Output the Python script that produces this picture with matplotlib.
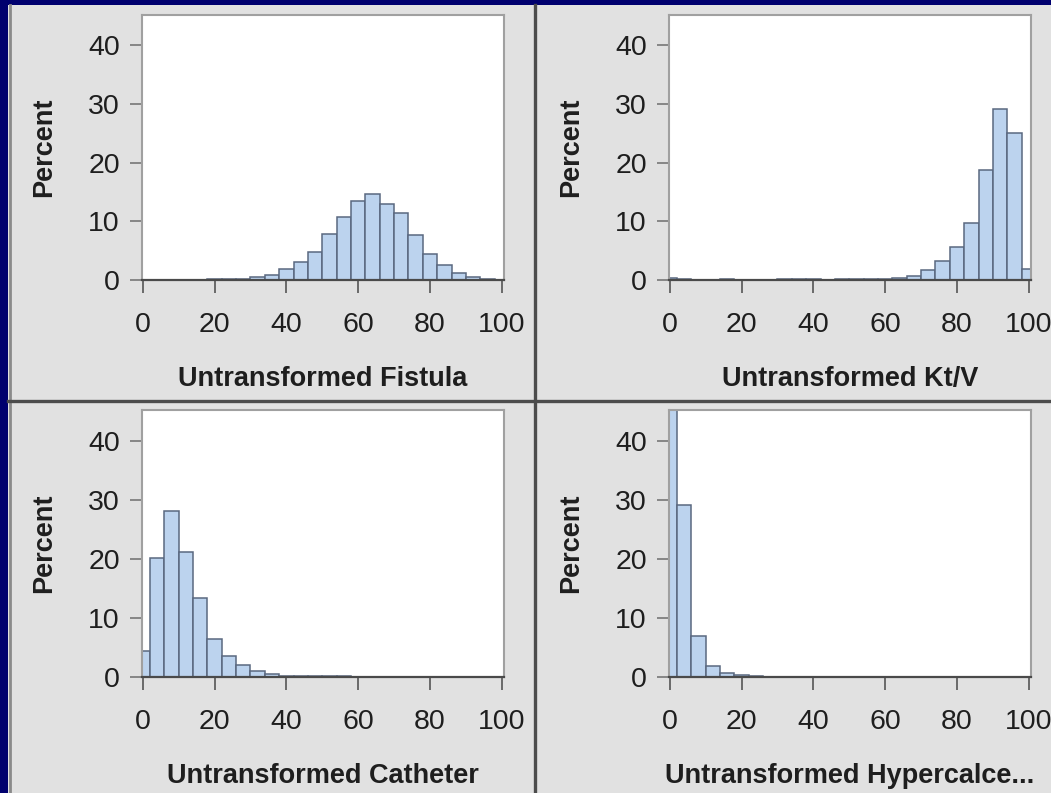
import numpy as np
import matplotlib
matplotlib.use("Agg")
import matplotlib.pyplot as plt
from matplotlib.patches import Rectangle

plt.rcParams["font.family"] = ["Liberation Sans", "DejaVu Sans"]

# Histogram bins: width 4, centred on 0, 4, 8, ..., 100
bin_centers = list(range(0, 101, 4))
bin_width = 4

fistula = [0, 0, 0, 0, 0.05, 0.1, 0.15, 0.25, 0.45, 0.85, 1.8, 3.1, 4.8, 7.9,
           10.8, 13.4, 14.6, 12.9, 11.5, 7.7, 4.5, 2.5, 1.25, 0.45, 0.1, 0]
ktv = [0.3, 0.1, 0.05, 0.05, 0.15, 0.05, 0.05, 0.05, 0.1, 0.1, 0.15, 0.05, 0.1,
       0.1, 0.15, 0.2, 0.35, 0.7, 1.7, 3.3, 5.7, 9.8, 18.8, 29.1, 25.1, 1.8]
catheter = [4.4, 20.2, 28.1, 21.2, 13.4, 6.5, 3.6, 2.1, 1.1, 0.45, 0.25, 0.15,
            0.1, 0.15, 0.1, 0.05, 0, 0, 0, 0, 0, 0, 0, 0, 0, 0]
hypercalcemia = [46.5, 29.2, 7.0, 1.9, 0.6, 0.3, 0.2, 0.05, 0, 0, 0, 0, 0, 0,
                 0, 0, 0, 0, 0, 0, 0, 0, 0, 0, 0, 0]

panels = [
    ("Untransformed Fistula", fistula),
    ("Untransformed Kt/V", ktv),
    ("Untransformed Catheter", catheter),
    ("Untransformed Hypercalce...", hypercalcemia),
]

x_ticks = [0, 20, 40, 60, 80, 100]
y_ticks = [0, 10, 20, 30, 40]

W, H = 1051, 793
NAVY = "#00006e"
PANEL_GRAY = "#e1e1e1"
BAR_FILL = "#bcd3ee"
BAR_EDGE = "#5a6880"
TEXT = "#1e1e1e"

fig = plt.figure(figsize=(W / 100, H / 100), dpi=100, facecolor=NAVY)


def px_rect(x0, y0, x1, y1):
    """Convert a pixel box (top-left origin) to figure fraction [l, b, w, h]."""
    return [x0 / W, 1 - y1 / H, (x1 - x0) / W, (y1 - y0) / H]


# Backdrop layer in pixel coordinates (y grows downward)
bg = fig.add_axes([0, 0, 1, 1], zorder=0)
bg.set_xlim(0, W)
bg.set_ylim(H, 0)
bg.axis("off")
bg.add_patch(Rectangle((8, 5), W - 8, H - 5, facecolor=PANEL_GRAY,
                       edgecolor="none"))
bg.plot([9.5, 9.5], [5, H], color="#8a8a8a", lw=2.0)
bg.plot([535, 535], [5, H], color="#4c4c4c", lw=2.4)
bg.plot([8, W], [400.5, 400.5], color="#4c4c4c", lw=2.4)

boxes = [
    (142, 15, 504, 280),
    (669, 15, 1031, 280),
    (142, 410, 504, 677),
    (669, 410, 1031, 677),
]

for (label, values), (x0, y0, x1, y1) in zip(panels, boxes):
    ax = fig.add_axes(px_rect(x0, y0, x1, y1), zorder=2)
    ax.set_facecolor("white")
    centers = [c for c, v in zip(bin_centers, values) if v > 0]
    heights = [v for v in values if v > 0]
    ax.bar(centers, heights, width=bin_width, color=BAR_FILL,
           edgecolor=BAR_EDGE, linewidth=1.1, zorder=2)
    ax.set_xlim(-0.2, 100.6)
    ax.set_ylim(0, 45.2)
    ax.set_xticks(x_ticks)
    ax.set_yticks(y_ticks)
    ax.tick_params(axis="x", direction="out", length=9, width=1.2,
                   color="#555555", pad=14, labelsize=20.5, labelcolor=TEXT)
    ax.tick_params(axis="y", direction="out", length=9, width=1.2,
                   color="#777777", pad=7, labelsize=20.5, labelcolor=TEXT)
    for side in ("top", "right", "left"):
        ax.spines[side].set_color("#a0a0a0")
        ax.spines[side].set_linewidth(1.5)
    ax.spines["bottom"].set_color("#4a4a4a")
    ax.spines["bottom"].set_linewidth(1.6)
    ax.spines["bottom"].set_zorder(3)
    ax.set_xlabel(label, fontsize=19.5, fontweight="bold", color=TEXT,
                  labelpad=20)
    ax.set_ylabel("Percent", fontsize=19.5, fontweight="bold", color=TEXT,
                  labelpad=22)

fig.savefig("out.png", dpi=100, facecolor=NAVY)
